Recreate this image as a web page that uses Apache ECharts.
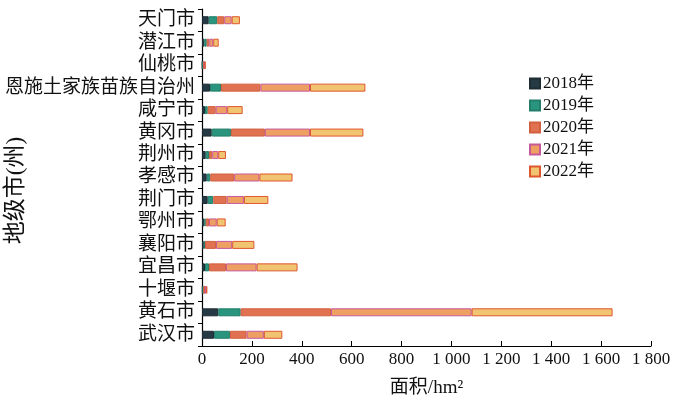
<!DOCTYPE html>
<html>
<head>
<meta charset="utf-8">
<script src="https://cdn.jsdelivr.net/npm/echarts@6/dist/echarts.min.js"></script>
<style>
  html, body { margin: 0; padding: 0; background: #fff; }
  #chart { width: 684px; height: 398px; }
</style>
</head>
<body>
<div id="chart"></div>
<script>
// categories listed bottom -> top (category y-axis starts at the bottom)
const cities = ["武汉市", "黄石市", "十堰市", "宜昌市", "襄阳市", "鄂州市", "荆门市", "孝感市",
  "荆州市", "黄冈市", "咸宁市", "恩施土家族苗族自治州", "仙桃市", "潜江市", "天门市"];
const years = ["2018年", "2019年", "2020年", "2021年", "2022年"];

const area2018 = [48, 65, 3, 12, 7, 9, 23, 19, 15, 39, 12, 32, 2, 9, 27];
const area2019 = [64, 90, 2, 16, 5, 6, 22, 14, 13, 77, 11, 44, 2, 10, 34];
const area2020 = [67, 362, 7, 68, 44, 13, 54, 96, 13, 136, 32, 158, 4, 10, 28];
const area2021 = [69, 564, 5, 123, 65, 31, 69, 101, 24, 181, 46, 199, 3, 16, 30];
const area2022 = [74, 565, 4, 164, 89, 36, 98, 133, 31, 214, 62, 222, 3, 22, 33];

const fills = ["#263a45", "#2a957e", "#e07252", "#eea062", "#f1c472"];
const borders = ["#1e2c34", "#237e6a", "#d2603f", "#c7589c", "#e0562f"];

const serif = "'Liberation Serif', 'Noto Sans CJK SC', serif";
const fmtNum = (v) => v >= 1000 ? String(v).replace(/\B(?=(\d{3})+(?!\d))/g, " ") : String(v);

const chart = echarts.init(document.getElementById("chart"), null, { renderer: "canvas" });

const seriesData = [area2018, area2019, area2020, area2021, area2022];

chart.setOption({
  animation: false,
  grid: { left: 202, right: 33, top: 9, bottom: 52, containLabel: false, outerBoundsMode: "none" },
  legend: {
    orient: "vertical",
    left: 524,
    top: 70,
    icon: "rect",
    itemWidth: 10,
    itemHeight: 10,
    itemGap: 5,
    data: years,
    textStyle: { fontFamily: serif, fontSize: 17, color: "#111", padding: [0, 0, 0, -2] }
  },
  xAxis: {
    type: "value",
    min: 0,
    max: 1800,
    interval: 200,
    name: "面积/hm²",
    nameLocation: "middle",
    nameGap: 33,
    nameMoveOverlap: false,
    nameTextStyle: { fontFamily: serif, fontSize: 19, color: "#111" },
    splitLine: { show: false },
    axisLine: { show: true, lineStyle: { color: "#000", width: 1.2 } },
    axisTick: { show: true, inside: true, length: 5, lineStyle: { color: "#000" } },
    axisLabel: { fontFamily: serif, fontSize: 17, color: "#111", margin: 5, formatter: fmtNum }
  },
  yAxis: {
    type: "category",
    data: cities,
    name: "地级市(州)",
    nameLocation: "middle",
    nameRotate: 90,
    nameGap: 175,
    nameMoveOverlap: false,
    nameTextStyle: { fontFamily: serif, fontSize: 23, color: "#111", padding: [0, 26, 0, 0] },
    axisLine: { show: true, lineStyle: { color: "#000", width: 1.2 } },
    axisTick: { show: true, length: 4, lineStyle: { color: "#000" } },
    axisLabel: { fontFamily: serif, fontSize: 19, color: "#111", margin: 7, interval: 0 }
  },
  series: years.map((y, i) => ({
    name: y,
    type: "bar",
    stack: "total",
    barWidth: 8,
    data: seriesData[i],
    itemStyle: { color: fills[i], borderColor: borders[i], borderWidth: 1 }
  }))
});
</script>
</body>
</html>
